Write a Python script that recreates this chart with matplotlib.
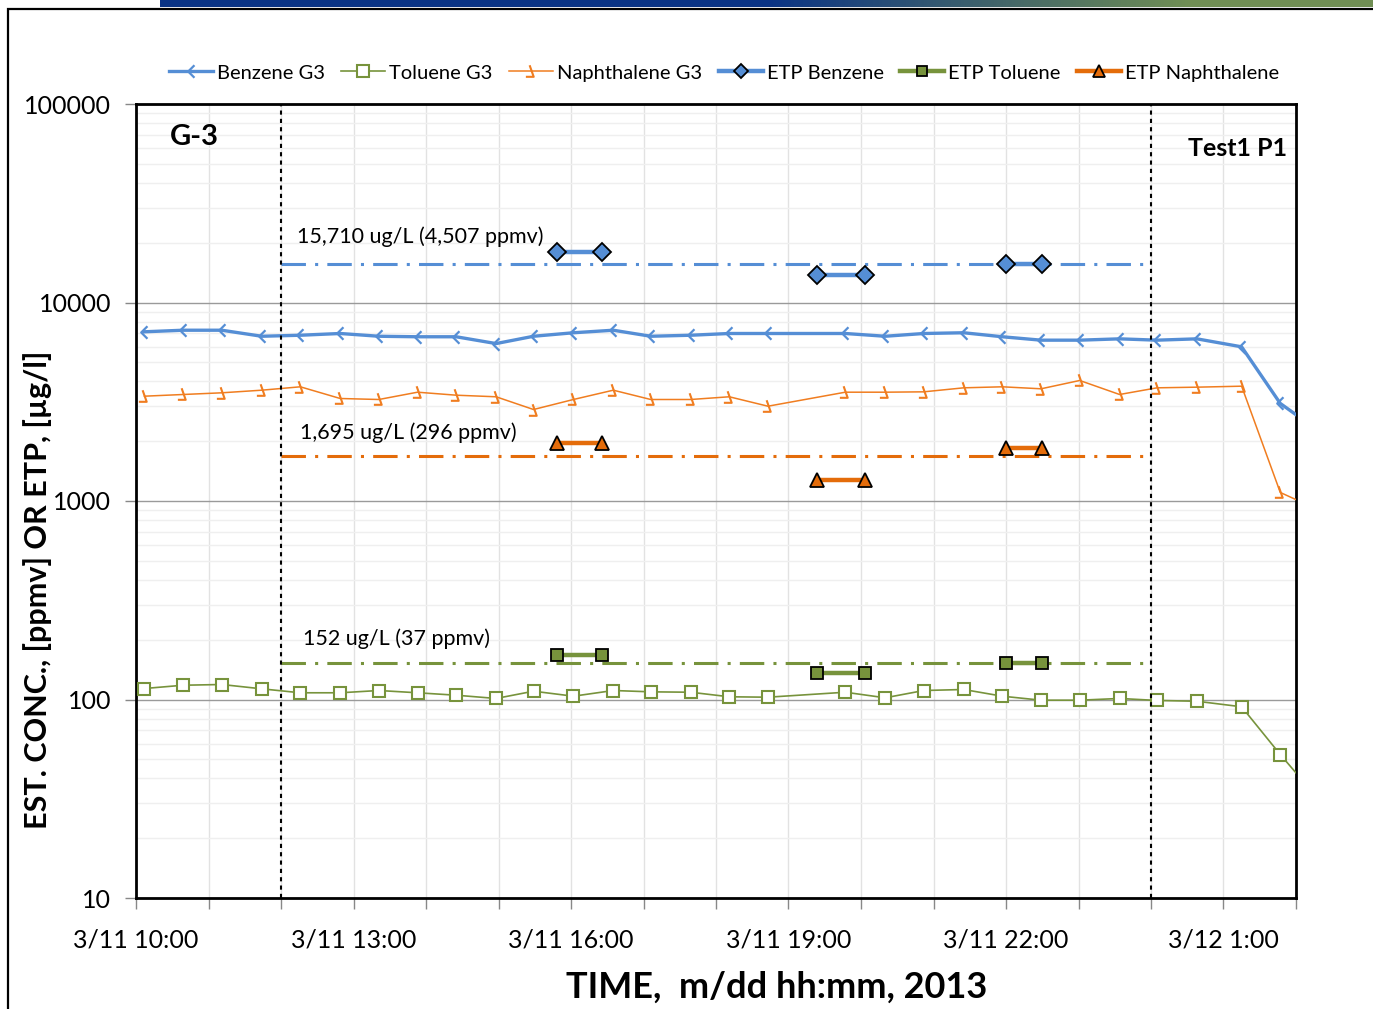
import numpy as np
import pandas as pd
import matplotlib
matplotlib.use("Agg")
import matplotlib.pyplot as plt
import matplotlib.dates as mdates
from matplotlib.path import Path
from matplotlib.lines import Line2D
from matplotlib.patches import Rectangle

plt.rcParams['font.family'] = ['Lato', 'DejaVu Sans']

# ---- data ----
g3_times = ['3/11 10:07', '3/11 10:39', '3/11 11:11', '3/11 11:44', '3/11 12:16',
            '3/11 12:49', '3/11 13:21', '3/11 13:53', '3/11 14:25', '3/11 14:58',
            '3/11 15:29', '3/11 16:02', '3/11 16:35', '3/11 17:06', '3/11 17:39',
            '3/11 18:11', '3/11 18:43', '3/11 19:47', '3/11 20:20', '3/11 20:52',
            '3/11 21:25', '3/11 21:57', '3/11 22:29', '3/11 23:01', '3/11 23:34',
            '3/12 00:05', '3/12 00:38', '3/12 01:15', '3/12 01:47', '3/12 02:19']
benzene_g3 = [7120, 7250, 7250, 6760, 6840, 6980, 6760, 6720, 6720, 6210,
              6760, 7040, 7250, 6760, 6840, 6980, 6980, 6980, 6760, 6980,
              7040, 6720, 6460, 6460, 6560, 6460, 6560, 5980, 3100, 2250]
toluene_g3 = [113.6, 118.0, 119.0, 113.2, 108.1, 108.1, 111.0, 108.1, 105.1, 101.2,
              110.1, 103.9, 111.0, 109.3, 108.8, 103.2, 102.7, 108.8, 102.0, 111.0,
              112.3, 103.9, 99.2, 99.2, 101.2, 98.9, 98.0, 91.9, 52.8, 31.3]
naph_g3 = [3373, 3440, 3508, 3616, 3761, 3284, 3246, 3533, 3412, 3350,
           2890, 3246, 3616, 3246, 3246, 3350, 3003, 3533, 3533, 3548,
           3717, 3761, 3675, 4047, 3440, 3717, 3745, 3788, 1104, 900]

etp_starts = ['3/11 15:48', '3/11 19:24', '3/11 22:00']
etp_ends = ['3/11 16:26', '3/11 20:03', '3/11 22:30']
etp_benzene = [17870, 13680, 15540]
etp_toluene = [166.6, 135.3, 153.6]
etp_naph = [1949, 1269, 1860]

avg_period = ['3/11 12:00', '3/12 00:00']
avg_benzene = 15710
avg_toluene = 152
avg_naph = 1695
avg_labels = ['15,710 ug/L (4,507 ppmv)', '1,695 ug/L (296 ppmv)', '152 ug/L (37 ppmv)']

def to_dt(lst):
    return pd.to_datetime(['2013/' + s for s in lst], format='%Y/%m/%d %H:%M')

t = to_dt(g3_times)
e0 = to_dt(etp_starts)
e1 = to_dt(etp_ends)
p = to_dt(avg_period)

blue = '#558ED5'
green = '#77933C'
orange = '#F07D20'
orange_dk = '#E46C0A'

# odd half-drawn excel markers
benz_mk = Path([(0.45, 0.95), (-0.5, 0.0), (0.45, -0.95)], [Path.MOVETO, Path.LINETO, Path.LINETO])
naph_mk = Path([(-0.3, 1.0), (0.35, -0.85), (-0.9, -0.85)], [Path.MOVETO, Path.LINETO, Path.LINETO])

fig = plt.figure(figsize=(13.73, 10.09), dpi=100)
ax = fig.add_axes([136/1373, 1-898/1009, 1160/1373, 794/1009])

ax.plot(t, benzene_g3, color=blue, lw=2.4, marker=benz_mk, ms=9, mfc='none', mec=blue, mew=1.6, zorder=4)
ax.plot(t, toluene_g3, color=green, lw=1.2, marker='s', ms=9, mfc='white', mec=green, mew=1.5, zorder=4)
ax.plot(t, naph_g3, color=orange, lw=1.1, marker=naph_mk, ms=9, mfc='none', mec=orange, mew=1.5, zorder=4)

for i in range(3):
    ax.plot([e0[i], e1[i]], [etp_benzene[i]]*2, color=blue, lw=3.2, marker='D', ms=9,
            mfc=blue, mec='black', mew=1.3, zorder=5)
    ax.plot([e0[i], e1[i]], [etp_toluene[i]]*2, color=green, lw=3.2, marker='s', ms=9,
            mfc=green, mec='black', mew=1.3, zorder=5)
    ax.plot([e0[i], e1[i]], [etp_naph[i]]*2, color=orange_dk, lw=3.2, marker='^', ms=10,
            mfc=orange_dk, mec='black', mew=1.3, zorder=5)

ax.plot(p, [avg_benzene]*2, color=blue, lw=2.2, dashes=(8, 3, 1, 3), zorder=3)
ax.plot(p, [avg_naph]*2, color=orange_dk, lw=2.2, dashes=(8, 3, 1, 3), zorder=3)
ax.plot(p, [avg_toluene]*2, color=green, lw=2.2, dashes=(8, 3, 1, 3), zorder=3)

for d in p:
    ax.axvline(d, color='black', lw=1.5, ls=(0, (2, 2)), zorder=6)

ax.text(pd.Timestamp('2013-03-11 12:13'), 21500, avg_labels[0], fontsize=15.5, va='center')
ax.text(pd.Timestamp('2013-03-11 12:16'), 2213, avg_labels[1], fontsize=15.5, va='center')
ax.text(pd.Timestamp('2013-03-11 12:18'), 203, avg_labels[2], fontsize=15.5, va='center')
ax.text(0.029, 0.958, 'G-3', transform=ax.transAxes, fontsize=21, fontweight='bold', va='center')
ax.text(0.992, 0.944, 'Test1 P1', transform=ax.transAxes, fontsize=18, fontweight='bold',
        va='center', ha='right')

ax.set_yscale('log')
ax.set_ylim(10, 100000)
ax.set_xlim(pd.Timestamp('2013-03-11 10:00'), pd.Timestamp('2013-03-12 02:00'))
ax.yaxis.set_major_formatter(plt.FuncFormatter(lambda v, pos: '%d' % round(v)))
ax.yaxis.set_minor_formatter(plt.NullFormatter())
ax.xaxis.set_major_locator(mdates.HourLocator(byhour=[1, 4, 7, 10, 13, 16, 19, 22]))
ax.xaxis.set_minor_locator(mdates.HourLocator())

def xfmt(v, pos):
    d = mdates.num2date(v)
    return '%d/%d %d:%02d' % (d.month, d.day, d.hour, d.minute)

ax.xaxis.set_major_formatter(plt.FuncFormatter(xfmt))
ax.tick_params(axis='x', which='both', length=8, width=1, color='#888888', pad=14, labelsize=18)
ax.tick_params(axis='y', which='major', length=8, width=1, color='#888888', pad=10, labelsize=18)
ax.tick_params(axis='y', which='minor', length=0)

ax.grid(axis='y', which='major', color='#9a9a9a', lw=1.0, zorder=0)
ax.grid(axis='y', which='minor', color='#efefef', lw=1.0, zorder=0)
ax.grid(axis='x', which='both', color='#e2e2e2', lw=1.0, zorder=0)
ax.set_axisbelow(True)
for s in ax.spines.values():
    s.set_linewidth(2.0)
    s.set_color('black')

fig.text(777/1373, 1-987/1009, 'TIME,  m/dd hh:mm, 2013', fontsize=26, fontweight='bold',
         ha='center', va='center')
fig.text(38/1373, 1-590/1009, 'EST. CONC., [ppmv] OR ETP, [µg/l]', fontsize=22, fontweight='bold',
         ha='center', va='center', rotation=90)

handles = [
    Line2D([], [], color=blue, lw=2.4, marker=benz_mk, ms=9, mfc='none', mec=blue, mew=1.6),
    Line2D([], [], color=green, lw=1.2, marker='s', ms=8, mfc='white', mec=green, mew=1.5),
    Line2D([], [], color=orange, lw=1.1, marker=naph_mk, ms=9, mfc='none', mec=orange, mew=1.5),
    Line2D([], [], color=blue, lw=3.2, marker='D', ms=7, mfc=blue, mec='black', mew=1.3),
    Line2D([], [], color=green, lw=3.2, marker='s', ms=7, mfc=green, mec='black', mew=1.3),
    Line2D([], [], color=orange_dk, lw=3.2, marker='^', ms=8, mfc=orange_dk, mec='black', mew=1.3),
]
labels = ['Benzene G3', 'Toluene G3', 'Naphthalene G3', 'ETP Benzene', 'ETP Toluene', 'ETP Naphthalene']
fig.legend(handles, labels, loc='center', bbox_to_anchor=(724/1373, 1-73/1009), ncol=6,
           frameon=False, fontsize=14.5, handlelength=2.2, handletextpad=0.2, columnspacing=0.8)

# slide decoration: border and gradient bar at the top
fig.patches.append(Rectangle((8/1373, -0.01), 1.0, 1-9/1009+0.01, transform=fig.transFigure,
                             fill=False, ec='black', lw=1.6))
bar = fig.add_axes([160/1373, 1-7/1009, 1-160/1373, 7/1009])
c0 = np.array([0.04, 0.20, 0.52])
c1 = np.array([0.44, 0.56, 0.33])
w = np.clip((np.linspace(0, 1, 400) - 0.5) / 0.35, 0, 1)
grad = (c0[None, :] * (1 - w[:, None]) + c1[None, :] * w[:, None])[None, :, :]
bar.imshow(grad, aspect='auto', extent=[0, 1, 0, 1])
bar.axis('off')

fig.savefig('out.png', dpi=100)
